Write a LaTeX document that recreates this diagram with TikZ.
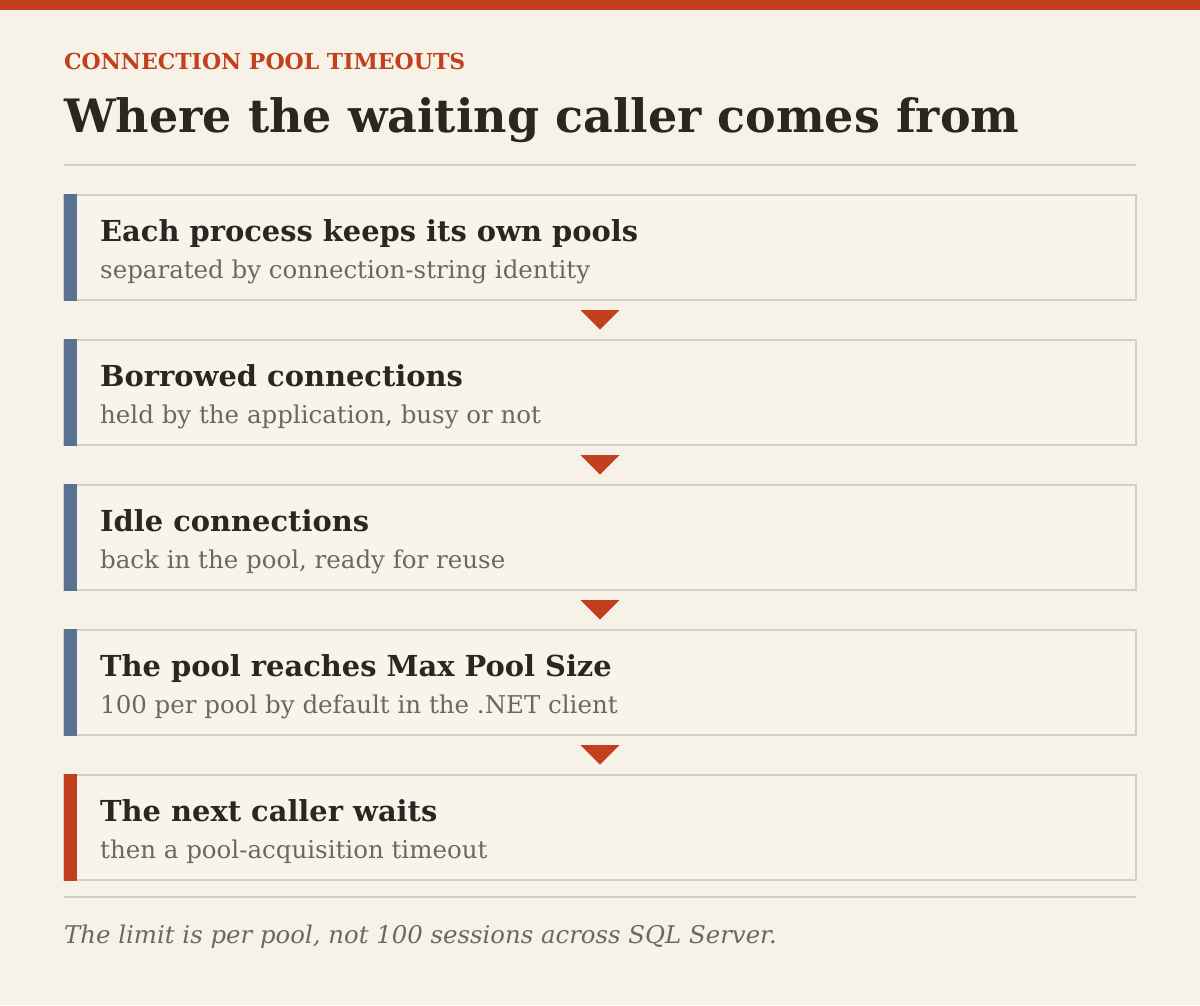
\documentclass[tikz,border=0pt]{standalone}
\usepackage{fontspec}
\setmainfont{DejaVu Serif}
\usetikzlibrary{calc}
\definecolor{bgc}{HTML}{F7F2E8}
\definecolor{boxfill}{HTML}{F9F4EB}
\definecolor{accent}{HTML}{C2401D}
\definecolor{slate}{HTML}{587290}
\definecolor{ink}{HTML}{2A2621}
\definecolor{subink}{HTML}{6E675E}
\definecolor{rulec}{HTML}{D6CEC2}
\tikzset{
  stagebox/.style={draw=rulec, line width=2pt, fill=boxfill, minimum width=1072pt, minimum height=105pt, inner sep=0pt, outer sep=0pt},
  headtxt/.style={anchor=base west, inner sep=0pt, text=ink, font=\bfseries\fontsize{28.9}{34}\selectfont},
  subtxt/.style={anchor=base west, inner sep=0pt, text=subink, font=\fontsize{24.5}{29}\selectfont},
  flowmark/.style={fill=accent},
}
\begin{document}
\begin{tikzpicture}[x=1pt,y=-1pt]
\useasboundingbox (0,0) rectangle (1200,1005);
\fill[bgc] (0,0) rectangle (1200,1005);
\fill[accent] (0,0) rectangle (1200,10);
\node[anchor=base west, inner sep=0pt, text=accent, font=\bfseries\fontsize{22}{26}\selectfont] (kicker) at (64,69) {CONNECTION POOL TIMEOUTS};
\node[anchor=base west, inner sep=0pt, text=ink, font=\bfseries\fontsize{46}{55}\selectfont] (title) at (64,132) {Where the waiting caller comes from};
\draw[rulec, line width=2pt] (64,165) -- (1136,165);
% boxes
\foreach \i/\y/\c/\h/\s in {
  1/195/slate/{Each process keeps its own pools}/{separated by connection-string identity},
  2/340/slate/{Borrowed connections}/{held by the application, busy or not},
  3/485/slate/{Idle connections}/{back in the pool, ready for reuse},
  4/630/slate/{The pool reaches Max Pool Size}/{100 per pool by default in the .NET client},
  5/775/accent/{The next caller waits}/{then a pool-acquisition timeout}} {
  \node[stagebox] (b\i) at (600,\y+52.5) {};
  \fill[\c] (64,\y-1) rectangle (77,\y+106);
  \node[headtxt] (h\i) at (100,\y+46) {\h};
  \node[subtxt] (s\i) at (100,\y+83) {\s};
}
\foreach \a/\b in {1/2,2/3,3/4,4/5} {
  \fill[flowmark] ($(b\a.south)+(-19.5,10)$) -- ($(b\a.south)+(19.5,10)$) -- ($(b\b.north)+(0,-10.5)$) -- cycle;
}
\draw[rulec, line width=2pt] (64,897) -- (1136,897);
\node[anchor=base west, inner sep=0pt, text=subink, font=\itshape\fontsize{24.4}{29}\selectfont] (note) at (64,943) {The limit is per pool, not 100 sessions across SQL Server.};
\end{tikzpicture}
\end{document}
